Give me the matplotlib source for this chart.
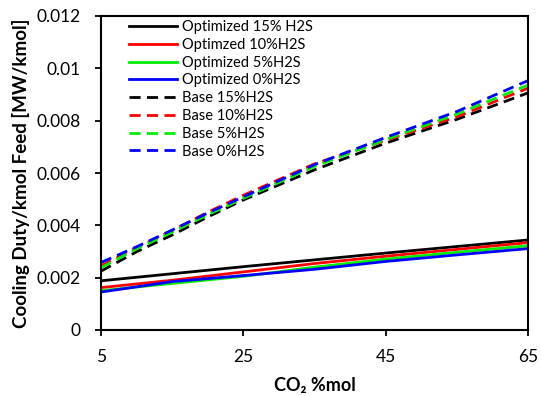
import matplotlib
matplotlib.use("Agg")
import matplotlib.pyplot as plt

plt.rcParams['font.family'] = ['Lato', 'DejaVu Sans']

# CO2 content of the feed (%mol)
co2_opt = [5, 15, 25, 35, 45, 55, 65]
co2_base = [5, 10, 15, 20, 25, 35, 45, 55, 65]

# Optimized cases: cooling duty per kmol feed (MW/kmol)
opt_15 = [0.00188, 0.00215, 0.00242, 0.00268, 0.00294, 0.00319, 0.00344]
opt_10 = [0.00162, 0.00190, 0.00222, 0.00254, 0.00282, 0.00308, 0.00334]
opt_5 = [0.00150, 0.00178, 0.00205, 0.00240, 0.00271, 0.00297, 0.00322]
opt_0 = [0.00145, 0.00185, 0.00208, 0.00232, 0.00262, 0.00287, 0.00311]

# Base cases
base_15 = [0.00225, 0.00299, 0.00363, 0.00432, 0.00497, 0.00612, 0.00714, 0.00805, 0.00906]
base_10 = [0.00245, 0.00315, 0.00380, 0.00450, 0.00515, 0.00635, 0.00725, 0.00815, 0.00924]
base_5 = [0.00238, 0.00310, 0.00374, 0.00440, 0.00503, 0.00625, 0.00728, 0.00825, 0.00936]
base_0 = [0.00258, 0.00318, 0.00382, 0.00447, 0.00509, 0.00632, 0.00736, 0.00835, 0.00953]

labels = ['Optimized 15% H2S', 'Optimzed 10%H2S', 'Optimized 5%H2S', 'Optimized 0%H2S',
          'Base 15%H2S', 'Base 10%H2S', 'Base 5%H2S', 'Base 0%H2S']
colors = ['#000000', '#ff0000', '#00ee00', '#0000ff']

x_ticks = [5, 25, 45, 65]
y_ticks = [0, 0.002, 0.004, 0.006, 0.008, 0.01, 0.012]
y_ticklabels = ['0', '0.002', '0.004', '0.006', '0.008', '0.01', '0.012']

fig = plt.figure(figsize=(5.41, 3.96), dpi=100)
ax = fig.add_axes([101 / 541, 66 / 396, 427 / 541, 314 / 396])

for i, ys in enumerate([opt_15, opt_10, opt_5, opt_0]):
    ax.plot(co2_opt, ys, color=colors[i], lw=2.0, ls='-', label=labels[i])
for i, ys in enumerate([base_15, base_10, base_5, base_0]):
    ax.plot(co2_base, ys, color=colors[i], lw=2.0, ls=(0, (4, 2.3)), label=labels[i + 4])

ax.set_xlim(5, 65)
ax.set_ylim(0, 0.012)
ax.set_xticks(x_ticks)
ax.set_xticklabels([str(t) for t in x_ticks])
ax.set_yticks(y_ticks)
ax.set_yticklabels(y_ticklabels)
ax.tick_params(axis='both', direction='out', length=4.5, width=1.3, labelsize=12.5)
ax.tick_params(axis='y', pad=10)
ax.tick_params(axis='x', pad=9)
for sp in ax.spines.values():
    sp.set_linewidth(1.5)

ax.set_ylabel('Cooling Duty/kmol Feed [MW/kmol]', fontsize=13.5, fontweight='bold', labelpad=5)
ax.set_xlabel('CO₂ %mol', fontsize=13, fontweight='bold', labelpad=9)

leg = ax.legend(loc='upper left', bbox_to_anchor=(0.045, 1.015), frameon=False,
                fontsize=10.5, handlelength=3.3, handletextpad=0.35, labelspacing=0.26,
                borderaxespad=0.2)

fig.savefig('out.png', dpi=100)
